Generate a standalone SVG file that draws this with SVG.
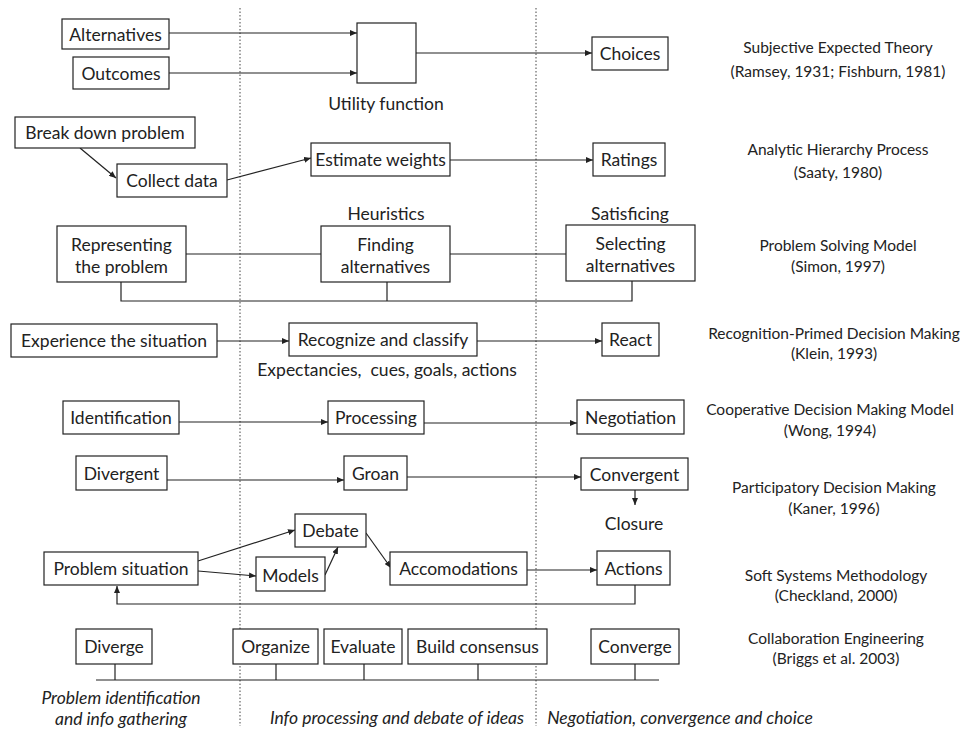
<svg xmlns="http://www.w3.org/2000/svg" width="972" height="731" viewBox="0 0 972 731">
<defs>
<marker id="ah" markerWidth="7" markerHeight="6" refX="7" refY="3" orient="auto" markerUnits="userSpaceOnUse">
<path d="M0,0 L7,3 L0,6 z" fill="#222"/>
</marker>
<style>
.box{fill:#fff;stroke:#222;stroke-width:1.2}
.t{font-family:Lato,"Open Sans","Liberation Sans",sans-serif;font-size:17.5px;fill:#222;text-anchor:middle;dominant-baseline:central}
.lbl{font-size:15.5px}
.it{font-style:italic}
.pre{white-space:pre}
.c{fill:none;stroke:#222;stroke-width:1.2}
.arr{marker-end:url(#ah)}
.dot{stroke:#444;stroke-width:1;stroke-dasharray:1.5 2;fill:none}
</style>
</defs>
<rect width="972" height="731" fill="#fff"/>
<g id="dividers">
<line class="dot" x1="240" y1="8" x2="240" y2="726"/>
<line class="dot" x1="536" y1="8" x2="536" y2="726"/>
</g>
<g id="connectors">
<line class="c arr" x1="169" y1="33" x2="357" y2="33"/>
<line class="c arr" x1="169" y1="73" x2="357" y2="73"/>
<line class="c arr" x1="416" y1="53" x2="592" y2="53"/>
<line class="c arr" x1="80" y1="148" x2="116" y2="178"/>
<line class="c arr" x1="227" y1="180" x2="311" y2="158"/>
<line class="c arr" x1="450" y1="160" x2="593" y2="160"/>
<line class="c" x1="186" y1="254" x2="321" y2="254"/>
<line class="c" x1="450" y1="254" x2="566" y2="254"/>
<polyline class="c" points="121,282 121,301 632,301 632,281"/>
<line class="c" x1="387" y1="282" x2="387" y2="301"/>
<line class="c arr" x1="217" y1="341" x2="289" y2="341"/>
<line class="c arr" x1="477" y1="341" x2="602" y2="341"/>
<line class="c arr" x1="179" y1="422" x2="328" y2="422"/>
<line class="c arr" x1="424" y1="423" x2="577" y2="423"/>
<line class="c arr" x1="167" y1="480" x2="344" y2="480"/>
<line class="c arr" x1="407" y1="477" x2="581" y2="477"/>
<line class="c arr" x1="635" y1="490" x2="635" y2="505"/>
<line class="c arr" x1="198" y1="561" x2="295" y2="530"/>
<line class="c arr" x1="198" y1="571" x2="256" y2="576"/>
<line class="c arr" x1="325" y1="575" x2="338" y2="547"/>
<line class="c arr" x1="366" y1="533" x2="391" y2="568"/>
<line class="c arr" x1="527" y1="570" x2="597" y2="570"/>
<polyline class="c arr" points="635,585 635,604 117,604 117,586"/>
<line class="c" x1="96" y1="680" x2="659" y2="680"/>
<line class="c" x1="115" y1="664" x2="115" y2="680"/>
<line class="c" x1="276" y1="664" x2="276" y2="680"/>
<line class="c" x1="364" y1="664" x2="364" y2="680"/>
<line class="c" x1="478" y1="664" x2="478" y2="680"/>
<line class="c" x1="635" y1="664" x2="635" y2="680"/>
</g>
<g id="alternatives"><rect class="box" x="62" y="19" width="107" height="30"/><text class="t" x="115.5" y="34">Alternatives</text></g>
<g id="outcomes"><rect class="box" x="73" y="57" width="96" height="32"/><text class="t" x="121" y="73">Outcomes</text></g>
<g id="utility"><rect class="box" x="357" y="23" width="59" height="60"/><text class="t" x="386" y="103">Utility function</text></g>
<g id="choices"><rect class="box" x="592" y="37" width="76" height="33"/><text class="t" x="630" y="53.5">Choices</text></g>
<g id="label-set"><text class="t lbl" x="838" y="47">Subjective Expected Theory</text><text class="t lbl" x="838" y="71">(Ramsey, 1931; Fishburn, 1981)</text></g>
<g id="breakdown"><rect class="box" x="15" y="117" width="180" height="31"/><text class="t" x="105" y="132.5">Break down problem</text></g>
<g id="collect"><rect class="box" x="117" y="164" width="110" height="33"/><text class="t" x="172" y="180.5">Collect data</text></g>
<g id="estimate"><rect class="box" x="311" y="143" width="139" height="33"/><text class="t" x="380.5" y="159.5">Estimate weights</text></g>
<g id="ratings"><rect class="box" x="593" y="143" width="72" height="33"/><text class="t" x="629" y="159.5">Ratings</text></g>
<g id="label-ahp"><text class="t lbl" x="838" y="149">Analytic Hierarchy Process</text><text class="t lbl" x="838" y="172">(Saaty, 1980)</text></g>
<g id="representing"><rect class="box" x="57" y="226" width="129" height="56"/><text class="t" x="121.5" y="244">Representing</text><text class="t" x="121.5" y="266">the problem</text></g>
<g id="finding"><text class="t" x="386" y="213">Heuristics</text><rect class="box" x="321" y="226" width="129" height="56"/><text class="t" x="385.5" y="244">Finding</text><text class="t" x="385.5" y="266">alternatives</text></g>
<g id="selecting"><text class="t" x="630" y="213">Satisficing</text><rect class="box" x="566" y="225" width="129" height="56"/><text class="t" x="630.5" y="243">Selecting</text><text class="t" x="630.5" y="265">alternatives</text></g>
<g id="label-psm"><text class="t lbl" x="838" y="245">Problem Solving Model</text><text class="t lbl" x="838" y="266">(Simon, 1997)</text></g>
<g id="experience"><rect class="box" x="11" y="324" width="206" height="33"/><text class="t" x="114" y="340.5">Experience the situation</text></g>
<g id="recognize"><rect class="box" x="289" y="323" width="188" height="33"/><text class="t" x="383" y="339.5">Recognize and classify</text><text class="t pre" x="387" y="369">Expectancies,  cues, goals, actions</text></g>
<g id="react"><rect class="box" x="602" y="323" width="57" height="33"/><text class="t" x="630.5" y="339.5">React</text></g>
<g id="label-rpd"><text class="t lbl" x="834" y="333">Recognition-Primed Decision Making</text><text class="t lbl" x="834" y="353">(Klein, 1993)</text></g>
<g id="identification"><rect class="box" x="63" y="401" width="116" height="33"/><text class="t" x="121" y="417.5">Identification</text></g>
<g id="processing"><rect class="box" x="328" y="401" width="96" height="33"/><text class="t" x="376" y="417.5">Processing</text></g>
<g id="negotiation"><rect class="box" x="577" y="400" width="107" height="34"/><text class="t" x="630.5" y="417">Negotiation</text></g>
<g id="label-cdm"><text class="t lbl" x="830" y="409">Cooperative Decision Making Model</text><text class="t lbl" x="830" y="430">(Wong, 1994)</text></g>
<g id="divergent"><rect class="box" x="76" y="456" width="91" height="34"/><text class="t" x="121.5" y="473">Divergent</text></g>
<g id="groan"><rect class="box" x="344" y="456" width="63" height="34"/><text class="t" x="375.5" y="473">Groan</text></g>
<g id="convergent"><rect class="box" x="581" y="458" width="107" height="32"/><text class="t" x="634.5" y="474">Convergent</text><text class="t" x="634" y="523">Closure</text></g>
<g id="label-pdm"><text class="t lbl" x="834" y="487">Participatory Decision Making</text><text class="t lbl" x="834" y="508">(Kaner, 1996)</text></g>
<g id="problem-situation"><rect class="box" x="44" y="552" width="154" height="33"/><text class="t" x="121" y="568.5">Problem situation</text></g>
<g id="debate"><rect class="box" x="295" y="514" width="71" height="33"/><text class="t" x="330.5" y="530.5">Debate</text></g>
<g id="models"><rect class="box" x="256" y="557" width="69" height="34"/><text class="t" x="290.5" y="575">Models</text></g>
<g id="accomodations"><rect class="box" x="390" y="552" width="137" height="33"/><text class="t" x="458.5" y="568.5">Accomodations</text></g>
<g id="actions"><rect class="box" x="597" y="551" width="73" height="34"/><text class="t" x="633.5" y="568">Actions</text></g>
<g id="label-ssm"><text class="t lbl" x="836" y="575">Soft Systems Methodology</text><text class="t lbl" x="836" y="595">(Checkland, 2000)</text></g>
<g id="diverge"><rect class="box" x="76" y="629" width="76" height="35"/><text class="t" x="114" y="646.5">Diverge</text></g>
<g id="organize"><rect class="box" x="233" y="629" width="85" height="35"/><text class="t" x="275.5" y="646.5">Organize</text></g>
<g id="evaluate"><rect class="box" x="324" y="629" width="78" height="35"/><text class="t" x="363" y="646.5">Evaluate</text></g>
<g id="build-consensus"><rect class="box" x="408" y="629" width="139" height="35"/><text class="t" x="477.5" y="646.5">Build consensus</text></g>
<g id="converge"><rect class="box" x="591" y="629" width="88" height="35"/><text class="t" x="635" y="646.5">Converge</text></g>
<g id="label-ce"><text class="t lbl" x="836" y="638">Collaboration Engineering</text><text class="t lbl" x="836" y="658">(Briggs et al. 2003)</text></g>
<g id="phases">
<text class="t it" x="121" y="697">Problem identification</text>
<text class="t it" x="121" y="718">and info gathering</text>
<text class="t it" x="397" y="717">Info processing and debate of ideas</text>
<text class="t it" x="680" y="717">Negotiation, convergence and choice</text>
</g>
</svg>
